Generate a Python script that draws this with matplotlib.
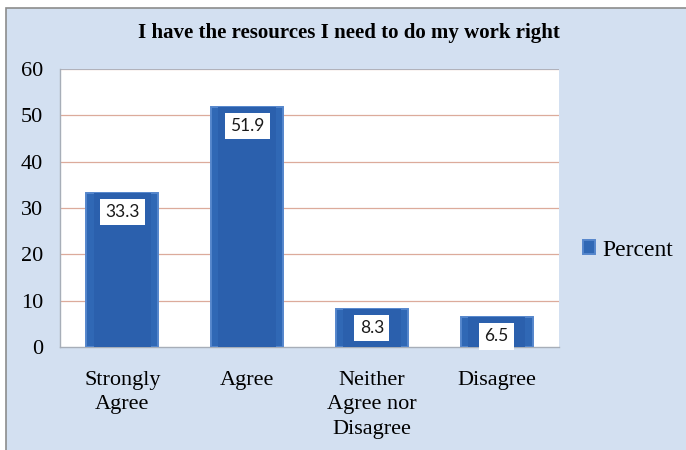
import matplotlib
matplotlib.use("Agg")
import matplotlib.pyplot as plt
from matplotlib.patches import Rectangle

categories = ["Strongly\nAgree", "Agree", "Neither\nAgree nor\nDisagree", "Disagree"]
percent = [33.3, 51.9, 8.3, 6.5]
yticks = [0, 10, 20, 30, 40, 50, 60]
title = "I have the resources I need to do my work right"
series_name = "Percent"

plt.rcParams["font.family"] = ["Liberation Serif", "DejaVu Serif"]

W, H = 686, 450
fig = plt.figure(figsize=(W / 100, H / 100), dpi=100)
bg = "#d3e0f1"
fig.patch.set_facecolor("white")

# chart-area panel with grey border on left/top
fig.patches.append(Rectangle((6 / W, -0.1), 1.2, (H - 8) / H + 0.1,
                             transform=fig.transFigure, facecolor=bg,
                             edgecolor="#8c8c8c", linewidth=1.2, zorder=-5))

ax = fig.add_axes([60 / W, 1 - 347 / H, (559 - 60) / W, (347 - 69) / H])
ax.set_zorder(2)
ax.set_facecolor("white")
ax.set_xlim(-0.5, len(categories) - 0.5)
ax.set_ylim(0, 60)

for v in yticks[1:]:
    ax.axhline(v, color="#dcab9b", lw=0.9, zorder=1)

x = list(range(len(categories)))
bars = ax.bar(x, percent, width=0.577, color="#3068b5", edgecolor="#5586cc",
              linewidth=1.4, zorder=3, label=series_name)
# inner shading for a bevelled look
ax.bar(x, percent, width=0.46, color="#2b60ad", linewidth=0, zorder=3.5)

for xi, p in zip(x, percent):
    ax.annotate(f"{p}", (xi, p), xytext=(0, -14), textcoords="offset points",
                ha="center", va="center", fontsize=12.5, family="Lato",
                color="#1a1a1a", zorder=5,
                bbox=dict(boxstyle="square,pad=0.3", fc="white", ec="none"))

for side in ["top", "right"]:
    ax.spines[side].set_visible(False)
for side in ["left", "bottom"]:
    ax.spines[side].set_color("#a7aeb8")
    ax.spines[side].set_linewidth(1)
ax.axhline(60, color="#a9b4c2", lw=1.2, zorder=1)

ax.set_yticks(yticks)
ax.set_yticklabels([str(t) for t in yticks], fontsize=16)
ax.set_xticks(x)
ax.set_xticklabels(categories, fontsize=16, linespacing=1.42, va="top")
ax.tick_params(axis="both", length=0)
ax.tick_params(axis="y", pad=12)
ax.tick_params(axis="x", pad=17)

fig.text(349 / W, 1 - 33 / H, title, ha="center", va="center",
         fontweight="bold", fontsize=15)

leg = fig.legend(handles=[bars], labels=[series_name], loc="center left",
                 bbox_to_anchor=(562 / W, 1 - 250 / H), frameon=False,
                 prop={"size": 17},
                 handlelength=0.5, handleheight=0.5, handletextpad=0.3)

fig.savefig("out.png", dpi=100, facecolor=fig.get_facecolor())
